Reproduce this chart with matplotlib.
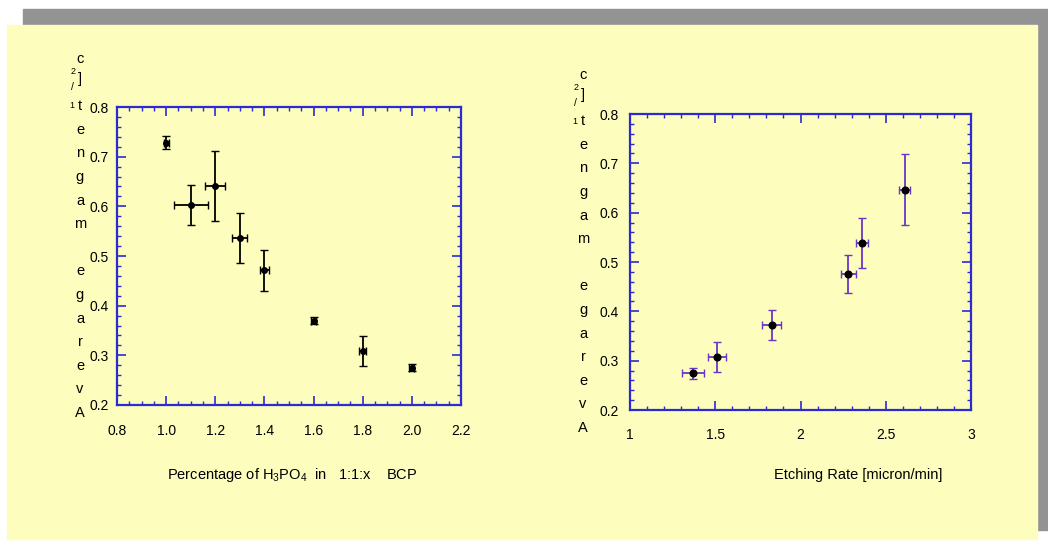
import matplotlib
matplotlib.use("Agg")
import matplotlib.pyplot as plt
from matplotlib.patches import Rectangle
from matplotlib.ticker import MultipleLocator, FormatStrFormatter

plt.rcParams['font.family'] = ['Liberation Sans', 'DejaVu Sans']
plt.rcParams['mathtext.fontset'] = 'custom'
plt.rcParams['mathtext.rm'] = 'Liberation Sans'

# data
h3po4_frac = [1.0, 1.1, 1.2, 1.3, 1.4, 1.6, 1.8, 2.0]
h3po4_err = [0.01, 0.07, 0.04, 0.03, 0.02, 0.01, 0.015, 0.01]
mag_a = [0.728, 0.603, 0.641, 0.536, 0.471, 0.370, 0.308, 0.275]
mag_a_err = [0.013, 0.04, 0.071, 0.05, 0.041, 0.007, 0.03, 0.007]

etch_rate = [1.37, 1.51, 1.83, 2.28, 2.36, 2.61]
etch_err = [0.063, 0.052, 0.053, 0.043, 0.033, 0.031]
mag_b = [0.274, 0.308, 0.372, 0.476, 0.539, 0.646]
mag_b_err = [0.011, 0.03, 0.03, 0.039, 0.051, 0.072]

ylabel = "Average magnet"
xlabel_a = r"Percentage of H$_3$PO$_4$  in   1:1:x    BCP"
xlabel_b = "Etching Rate [micron/min]"

W, H = 1048, 549
YELLOW = '#fdfdbd'
BLUE = '#2b2bd0'

fig = plt.figure(figsize=(W / 100, H / 100), dpi=100)
fig.patch.set_facecolor('white')


def px(x, y):
    return x / W, 1 - y / H


# shadow + panel
fig.patches.append(Rectangle(px(23, 530), (1048 - 23) / W, (530 - 9) / H,
                             transform=fig.transFigure, color='#939393', zorder=-2))
fig.patches.append(Rectangle(px(7, 539), (1037 - 7) / W, (539 - 25) / H,
                             transform=fig.transFigure, color=YELLOW, zorder=-1))


def make_axes(box, xlim, xmaj, xmin, xfmt, ymin_step, xpad, ypad):
    l, t, r, b = box
    ax = fig.add_axes([l / W, 1 - b / H, (r - l) / W, (b - t) / H])
    ax.set_facecolor(YELLOW)
    ax.set_xlim(*xlim)
    ax.set_ylim(0.2, 0.8)
    ax.xaxis.set_major_locator(MultipleLocator(xmaj))
    ax.xaxis.set_minor_locator(MultipleLocator(xmin))
    ax.xaxis.set_major_formatter(FormatStrFormatter(xfmt))
    ax.yaxis.set_major_locator(MultipleLocator(0.1))
    ax.yaxis.set_minor_locator(MultipleLocator(ymin_step))
    ax.yaxis.set_major_formatter(FormatStrFormatter('%.1f'))
    for s in ax.spines.values():
        s.set_color(BLUE)
        s.set_linewidth(1.6)
    ax.tick_params(which='both', direction='in', top=True, right=True,
                   color=BLUE, labelsize=10, labelcolor='black')
    ax.tick_params(which='major', length=6.5, width=1.2)
    ax.tick_params(which='minor', length=3.2, width=1.0)
    ax.tick_params(axis='x', pad=xpad)
    ax.tick_params(axis='y', pad=ypad)
    return ax


ax1 = make_axes((117, 107, 461, 405), (0.8, 2.2), 0.2, 0.05, '%.1f', 0.02, 14, 6)
ax1.errorbar(h3po4_frac, mag_a, yerr=mag_a_err, xerr=h3po4_err, fmt='o',
             color='black', ecolor='black', markersize=4, elinewidth=1.3,
             capsize=3, capthick=1.0)

ax2 = make_axes((630, 114, 971, 410), (1, 3), 0.5, 0.1, '%g', 0.02, 13, 8)
ax2.errorbar(etch_rate, mag_b, yerr=mag_b_err, xerr=etch_err, fmt='o',
             color='black', ecolor='#6a35c8', markersize=4.8, elinewidth=1.3,
             capsize=3, capthick=1.0)

# x titles
fig.text(*px(292, 475), xlabel_a, ha='center', va='center', fontsize=10.5)
fig.text(*px(858, 475), xlabel_b, ha='center', va='center', fontsize=10.5)


# stacked y titles, read bottom to top
def stacked_label(x, y_bottom, step, top):
    for i, ch in enumerate(ylabel):
        fig.text(*px(x, y_bottom - i * step), ch, ha='center', va='center', fontsize=10.5)
    tx, ty = top
    fig.text(*px(tx - 8, ty + 0), '1', ha='center', va='center', fontsize=6.5)
    fig.text(*px(tx - 8, ty - 18), '/', ha='center', va='center', fontsize=7.5)
    fig.text(*px(tx - 7, ty - 33), '2', ha='center', va='center', fontsize=6.5)
    fig.text(*px(tx, ty - 26), ']', ha='center', va='center', fontsize=10.5)
    fig.text(*px(tx, ty - 46), 'c', ha='center', va='center', fontsize=10.5)


stacked_label(80, 413, 23.6, (80, 105))
stacked_label(583, 428, 23.6, (583, 121))

fig.savefig('out.png', dpi=100, facecolor=fig.get_facecolor())
